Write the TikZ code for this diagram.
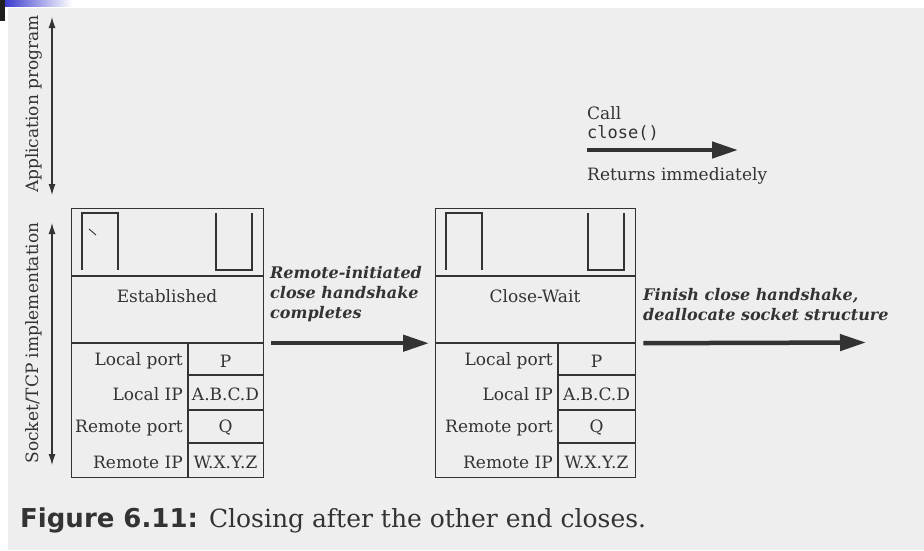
\documentclass[tikz,border=0pt]{standalone}
\usepackage{fontspec}
\setmainfont{DejaVu Serif}
\setmonofont{DejaVu Sans Mono}
\newfontfamily\capsans{DejaVu Sans}
\usetikzlibrary{arrows.meta,calc}

\definecolor{ink}{HTML}{333333}
\definecolor{paper}{HTML}{EEEEEE}
\definecolor{slideblue}{HTML}{3C3CCF}

\tikzset{
  boxline/.style={draw=ink, line width=1.4pt},
  txt/.style={text=ink, inner sep=0pt, font=\fontsize{17}{19}\selectfont},
  emph/.style={text=ink, inner sep=0pt, align=left,
    font=\fontsize{16}{20}\selectfont\bfseries\itshape},
  axisarrow/.style={draw=ink, line width=1.2pt,
    {Latex[length=11pt,width=7pt]}-{Latex[length=11pt,width=7pt]}},
  bigarrow/.style={draw=ink, line width=4.5pt,
    -{Triangle[length=26pt,width=16pt]}},
}

% one socket structure: name, left x, right x, divider x, state text
\newcommand\sockbox[5]{%
  \node[boxline, minimum width=#3-#2, minimum height=269, inner sep=0pt,
        anchor=north west] (#1) at (#2,208) {};
  \draw[boxline] (#2,276) -- (#3,276);
  \draw[boxline] (#2,343) -- (#3,343);
  \draw[boxline] (#4,343) -- (#4,477);
  \foreach \yy in {375,410,443} \draw[boxline] (#4,\yy) -- (#3,\yy);
  % send and receive buffers
  \draw[boxline, line width=1.2pt] (#2+11,270) -- (#2+11,213) -- (#2+47,213) -- (#2+47,270);
  \draw[boxline, line width=1.2pt] (#3-47,213) -- (#3-47,270) -- (#3-11,270) -- (#3-11,213);
  \node[txt] (#1-state) at ({(#2+#3)/2},296) {#5};
  \node[txt, anchor=east] (#1-lp)  at (#4-5,361) {Local port};
  \node[txt, anchor=east] (#1-lip) at (#4-5,394) {Local IP};
  \node[txt, anchor=east] (#1-rp)  at (#4-5,428) {Remote port};
  \node[txt, anchor=east] (#1-rip) at (#4-5,462) {Remote IP};
  \node[txt] (#1-lpv)  at ({(#4+#3)/2},361) {P};
  \node[txt] (#1-lipv) at ({(#4+#3)/2},394) {A.B.C.D};
  \node[txt] (#1-rpv)  at ({(#4+#3)/2},428) {Q};
  \node[txt] (#1-ripv) at ({(#4+#3)/2},462) {W.X.Y.Z};
}

\begin{document}
\begin{tikzpicture}[x=1pt, y=-1pt]
  \useasboundingbox (0,0) rectangle (924,550);
  \fill[white] (0,0) rectangle (924,550);
  \fill[paper] (8,8) rectangle (924,550);
  % slide decoration
  \shade[left color=slideblue, right color=white] (5,0) rectangle (72,6);
  \fill[black!88] (0,0) rectangle (5,21);

  % layer axes
  \coordinate (apptop) at (52,17);
  \coordinate (appbot) at (52,195);
  \coordinate (socktop) at (52,223);
  \coordinate (sockbot) at (52,465);
  \draw[axisarrow] (apptop) -- (appbot);
  \draw[axisarrow] (socktop) -- (sockbot);
  \node[txt, rotate=90] (applabel) at (34,104) {Application program};
  \node[txt, rotate=90] (socklabel) at (34,343) {Socket/TCP implementation};

  % socket structures
  \sockbox{lbox}{71}{263}{188}{Established}
  \sockbox{rbox}{435}{635}{558}{Close-Wait}
  \draw[ink, line width=0.9pt] (89,229) -- (96,235);

  % transitions
  \node[emph, anchor=north west] (remote) at (270,266)
    {Remote-initiated\\close handshake\\completes};
  \draw[bigarrow] ([xshift=7pt]lbox.east) -- ([xshift=-6pt]rbox.west);

  \node[emph, anchor=north west] (finish) at (643,288)
    {Finish close handshake,\\deallocate socket structure};
  \coordinate (gone) at (866,342.5);
  \draw[bigarrow] ([xshift=7pt]rbox.east) -- (gone);

  % application call
  \node[txt, anchor=west] (call) at (587,113) {Call};
  \node[txt, anchor=west, font=\fontsize{17}{19}\ttfamily] (closecall) at (587,133) {close()};
  \coordinate (callstart) at (587,150);
  \coordinate (callend) at (738,150);
  \draw[bigarrow] (callstart) -- (callend);
  \node[txt, anchor=west] (returns) at (587,176) {Returns immediately};

  % caption
  \node[txt, anchor=west, font=\fontsize{26}{30}\selectfont] (caption) at (20,520)
    {{\capsans\bfseries Figure 6.11:} {\fontsize{25}{30}\selectfont Closing after the other end closes.}};
\end{tikzpicture}
\end{document}
